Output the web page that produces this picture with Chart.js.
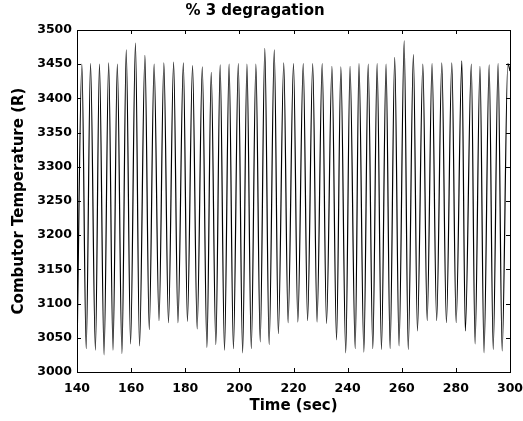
<!DOCTYPE html>
<html>
<head>
<meta charset="utf-8">
<script src="https://cdn.jsdelivr.net/npm/chart.js@4.4.1/dist/chart.umd.min.js"></script>
<style>
  html, body { margin: 0; padding: 0; background: #fff; }
  #wrap { width: 523px; height: 421px; }
</style>
</head>
<body>
<div id="wrap"><canvas id="temp-chart"></canvas></div>
<script>
// values: peaks and troughs of the oscillation
const peakTimes = [141.8, 145.0, 148.3, 151.7, 154.9, 158.2, 161.6, 165.1, 168.5, 172.1,
  175.7, 179.3, 182.7, 186.3, 189.6, 192.9, 196.2, 199.6, 202.8, 206.1,
  209.4, 212.9, 216.4, 220.0, 223.6, 227.1, 230.6, 234.2, 237.5, 240.9,
  244.2, 247.6, 250.9, 254.2, 257.4, 260.9, 264.3, 267.8, 271.2, 274.8,
  278.5, 282.2, 285.7, 288.9, 292.3, 295.6, 299.2];
const peakTemps = [3450, 3451, 3450, 3452, 3450, 3471, 3481, 3463, 3450, 3452,
  3453, 3452, 3448, 3446, 3438, 3449, 3450, 3451, 3450, 3450,
  3473, 3471, 3452, 3451, 3451, 3451, 3451, 3447, 3446, 3447,
  3451, 3450, 3451, 3450, 3460, 3484, 3464, 3450, 3451, 3452,
  3452, 3455, 3450, 3447, 3449, 3451, 3451];

const troughTimes = [140.0, 143.4, 146.8, 150.0, 153.3, 156.6, 159.8, 163.1, 166.7, 170.3,
  173.8, 177.3, 180.8, 184.4, 188.0, 191.3, 194.5, 197.8, 201.2, 204.4,
  207.7, 211.0, 214.4, 218.0, 221.6, 225.2, 228.7, 232.2, 235.9, 239.3,
  242.8, 246.0, 249.3, 252.5, 255.7, 259.0, 262.4, 265.8, 269.4, 272.9,
  276.5, 280.1, 283.5, 287.1, 290.4, 293.8, 297.1, 300.0];
const troughTemps = [3030, 3034, 3032, 3025, 3032, 3027, 3041, 3038, 3062, 3075,
  3072, 3072, 3074, 3063, 3036, 3040, 3032, 3034, 3028, 3034,
  3044, 3040, 3056, 3072, 3073, 3075, 3073, 3071, 3047, 3028,
  3034, 3029, 3034, 3033, 3034, 3038, 3033, 3060, 3075, 3075,
  3072, 3072, 3060, 3041, 3028, 3033, 3031, 3440];

const xTicks = [140, 160, 180, 200, 220, 240, 260, 280, 300];
const yTicks = [3000, 3050, 3100, 3150, 3200, 3250, 3300, 3350, 3400, 3450, 3500];

// merge both lists into one time-ordered series
const points = [];
peakTimes.forEach((t, i) => points.push({x: t, y: peakTemps[i]}));
troughTimes.forEach((t, i) => points.push({x: t, y: troughTemps[i]}));
points.sort((a, b) => a.x - b.x);

const FONT = '"DejaVu Sans", sans-serif';

// matlab-ish box with ticks pointing inward
const boxPlugin = {
  id: 'box',
  afterDatasetsDraw(chart) {
    const {ctx, chartArea: a, scales} = chart;
    const len = 4;
    ctx.save();
    ctx.strokeStyle = '#000';
    ctx.lineWidth = 1;
    ctx.beginPath();
    xTicks.forEach(v => {
      const px = Math.round(scales.x.getPixelForValue(v)) + 0.5;
      ctx.moveTo(px, a.bottom); ctx.lineTo(px, a.bottom - len);
      ctx.moveTo(px, a.top); ctx.lineTo(px, a.top + len);
    });
    yTicks.forEach(v => {
      const py = Math.round(scales.y.getPixelForValue(v)) + 0.5;
      ctx.moveTo(a.left, py); ctx.lineTo(a.left + len, py);
      ctx.moveTo(a.right, py); ctx.lineTo(a.right - len, py);
    });
    ctx.stroke();
    ctx.strokeRect(Math.round(a.left) + 0.5, Math.round(a.top) + 0.5,
      Math.round(a.right - a.left), Math.round(a.bottom - a.top));
    ctx.restore();
  }
};

new Chart(document.getElementById('temp-chart'), {
  type: 'line',
  data: {
    datasets: [{
      data: points,
      borderColor: '#000',
      borderWidth: 1.2,
      pointRadius: 0,
      cubicInterpolationMode: 'monotone',
      fill: false
    }]
  },
  options: {
    responsive: true,
    maintainAspectRatio: false,
    animation: false,
    events: [],
    layout: { padding: { left: 0, right: 13, top: 0, bottom: 0 } },
    plugins: {
      legend: { display: false },
      tooltip: { enabled: false },
      title: {
        display: true,
        text: '% 3 degragation',
        color: '#000',
        font: { family: FONT, size: 15, weight: 'bold' },
        padding: { top: 2, bottom: 10 }
      }
    },
    scales: {
      x: {
        type: 'linear',
        min: 140,
        max: 300,
        afterFit(scale) {
          scale.height = 49;
          scale.paddingLeft = 0;
          scale.paddingRight = 0;
        },
        afterBuildTicks(scale) { scale.ticks = xTicks.map(v => ({value: v})); },
        grid: { display: false, drawTicks: false },
        border: { display: false },
        ticks: {
          color: '#000',
          padding: 9,
          maxRotation: 0,
          callback: v => String(v),
          font: { family: FONT, size: 12.5, weight: 'bold' }
        },
        title: {
          display: true,
          text: 'Time (sec)',
          color: '#000',
          font: { family: FONT, size: 15, weight: 'bold' },
          padding: { top: 0, bottom: 6 }
        }
      },
      y: {
        min: 3000,
        max: 3500,
        afterFit(scale) {
          scale.width = 77;
          scale.paddingTop = 0;
          scale.paddingBottom = 0;
        },
        afterBuildTicks(scale) { scale.ticks = yTicks.map(v => ({value: v})); },
        grid: { display: false, drawTicks: false },
        border: { display: false },
        ticks: {
          color: '#000',
          padding: 5,
          callback: v => String(v),
          font: { family: FONT, size: 12.5, weight: 'bold' }
        },
        title: {
          display: true,
          text: 'Combutor Temperature (R)',
          color: '#000',
          font: { family: FONT, size: 15, weight: 'bold' },
          padding: { top: 10, bottom: 0 }
        }
      }
    }
  },
  plugins: [boxPlugin]
});
</script>
</body>
</html>
